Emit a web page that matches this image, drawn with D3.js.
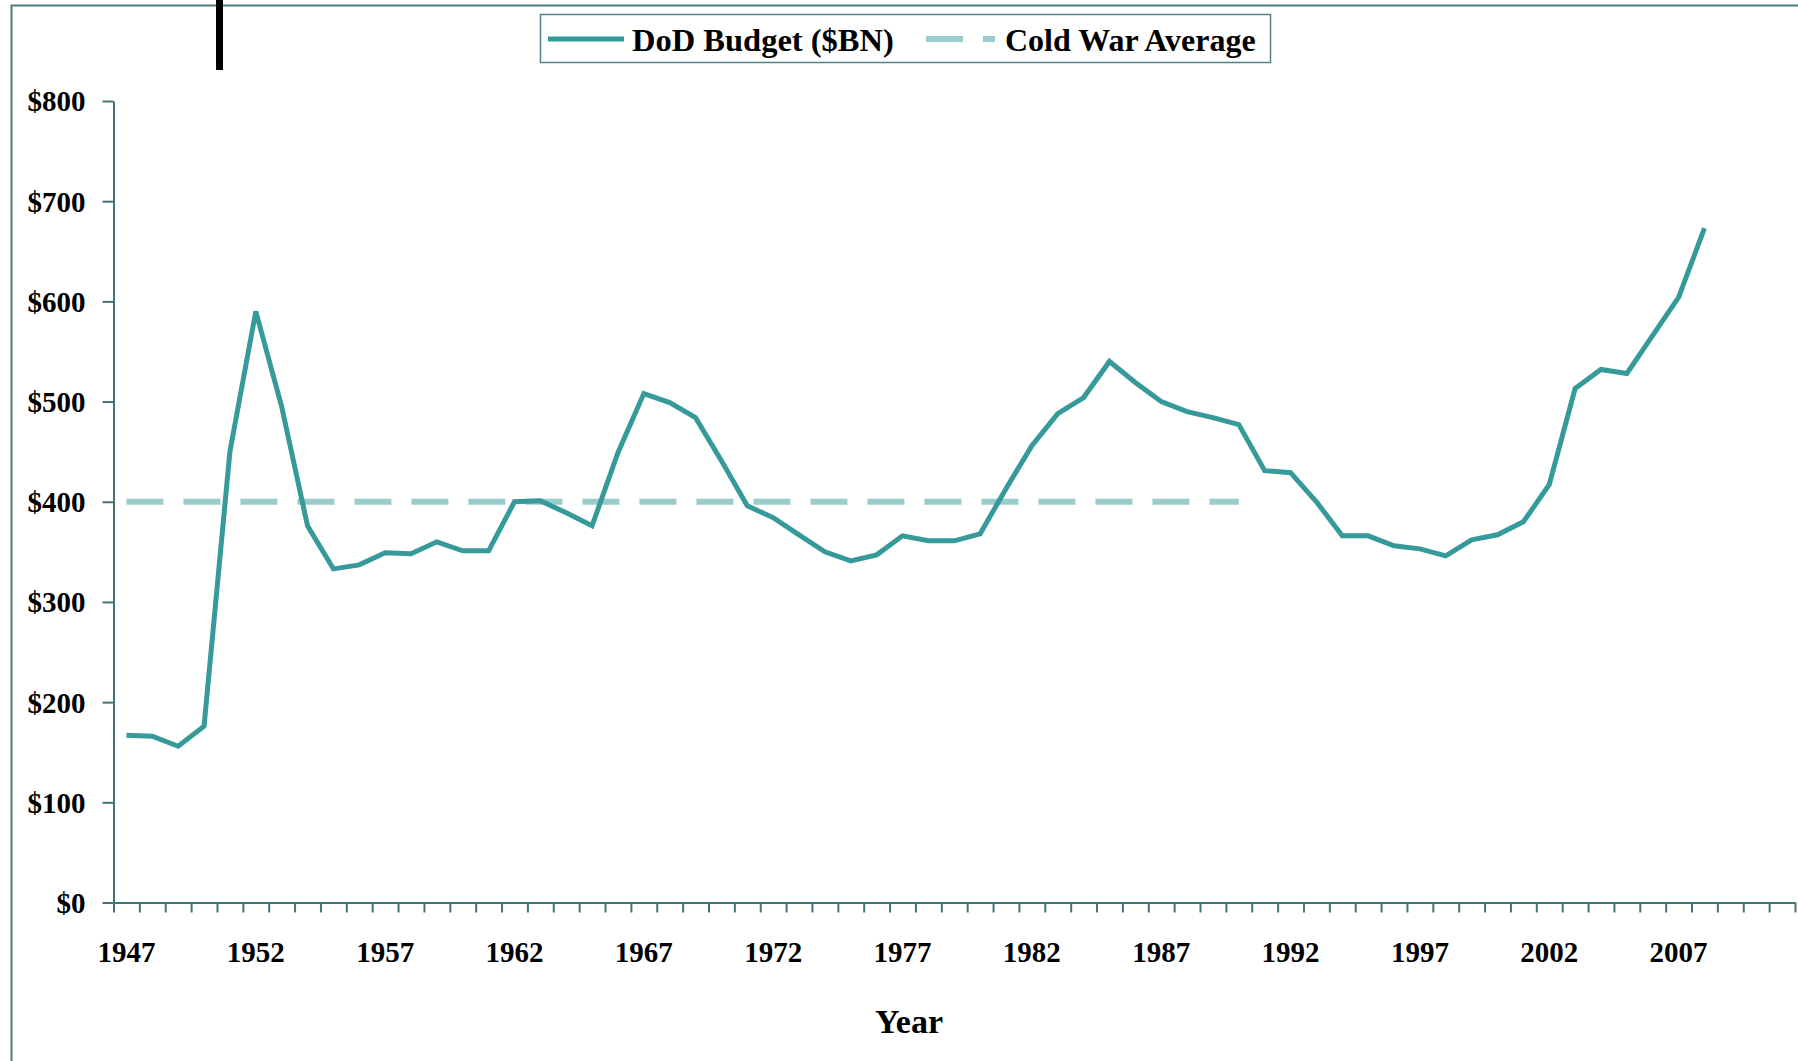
<!DOCTYPE html>
<html>
<head>
<meta charset="utf-8">
<script src="https://cdn.jsdelivr.net/npm/d3@7"></script>
<style>
  body { margin: 0; background: #fff; }
  text { font-family: "Liberation Serif", "Times New Roman", serif; font-weight: bold; fill: #000; }
</style>
</head>
<body>
<div id="chart"></div>
<script>
// data
var years = [1947, 1948, 1949, 1950, 1951, 1952, 1953, 1954, 1955, 1956,
             1957, 1958, 1959, 1960, 1961, 1962, 1963, 1964, 1965, 1966,
             1967, 1968, 1969, 1970, 1971, 1972, 1973, 1974, 1975, 1976,
             1977, 1978, 1979, 1980, 1981, 1982, 1983, 1984, 1985, 1986,
             1987, 1988, 1989, 1990, 1991, 1992, 1993, 1994, 1995, 1996,
             1997, 1998, 1999, 2000, 2001, 2002, 2003, 2004, 2005, 2006,
             2007, 2008];
var budget = [167, 166, 156, 176, 450, 590, 495, 376, 333, 337,
              349, 348, 360, 351, 351, 400, 401, 389, 376, 449,
              508, 499, 484, 441, 396, 384, 367, 350, 341, 347,
              366, 361, 361, 368, 413, 456, 488, 504, 540, 519,
              500, 490, 484, 477, 431, 429, 400, 366, 366, 356,
              353, 346, 362, 367, 380, 417, 513, 532, 528, 566,
              604, 673];
var coldWarYears = [1947, 1990];
var coldWarAvg = [400, 400];
var firstYear = 1947, lastYear = 2011;   // category range of the axis
var xLabels = ["1947", "1952", "1957", "1962", "1967", "1972", "1977", "1982", "1987", "1992", "1997", "2002", "2007"];
var yTicks = [0, 100, 200, 300, 400, 500, 600, 700, 800];
var seriesNames = ["DoD Budget ($BN)", "Cold War Average"];

function init(){
    var W = 1798, H = 1061;
    var left = 113.5, right = 1795, top = 101, bottom = 902.5;
    var lineColor = "#369a9a", avgColor = "#99cccc", axisColor = "#427676";

    var svg = d3.select("#chart").append("svg")
        .attr("width", W)
        .attr("height", H);

    // frame
    svg.append("path")
        .attr("d", "M11.5," + H + "V5.5H" + W)
        .attr("fill", "none")
        .attr("stroke", "#4e7c7c")
        .attr("stroke-width", 2);

    svg.append("rect")
        .attr("x", 216).attr("y", 0)
        .attr("width", 7).attr("height", 70)
        .attr("fill", "#000");

    var xScale = d3.scaleLinear()
        .domain([firstYear - 0.5, lastYear + 0.5])
        .range([left, right]);
    var yScale = d3.scaleLinear()
        .domain([0, 800])
        .range([bottom, top]);

    // y axis
    var yAxis = d3.axisLeft(yScale)
        .tickValues(yTicks)
        .tickSize(11)
        .tickSizeOuter(0)
        .tickPadding(17)
        .tickFormat(function(d){ return "$" + d; });
    var gy = svg.append("g")
        .attr("transform", "translate(" + left + ",0)")
        .call(yAxis);
    gy.selectAll("text").attr("font-size", 29).attr("dy", "0.34em");

    // x axis: tick marks between categories
    var bounds = [];
    for (var y = firstYear; y <= lastYear + 1; y++) bounds.push(y - 0.5);
    var xAxis = d3.axisBottom(xScale)
        .tickValues(bounds)
        .tickSize(10)
        .tickSizeOuter(0)
        .tickFormat("");
    var gx = svg.append("g")
        .attr("transform", "translate(0," + bottom + ")")
        .call(xAxis);

    [gx, gy].forEach(function(g){
        g.select(".domain").attr("stroke", axisColor).attr("stroke-width", 2);
        g.selectAll(".tick line").attr("stroke", axisColor).attr("stroke-width", 2);
        g.attr("font-family", null);
    });

    svg.append("g").selectAll("text")
        .data(xLabels)
        .enter().append("text")
        .attr("x", function(d){ return xScale(+d); })
        .attr("y", 962)
        .attr("text-anchor", "middle")
        .attr("font-size", 29)
        .text(function(d){ return d; });

    svg.append("text")
        .attr("x", 909).attr("y", 1033)
        .attr("text-anchor", "middle")
        .attr("font-size", 34)
        .text("Year");

    // cold war average
    var avgData = coldWarYears.map(function(d, i){ return {year: d, value: coldWarAvg[i]}; });
    var line = d3.line()
        .x(function(d){ return xScale(d.year); })
        .y(function(d){ return yScale(d.value); });

    svg.append("path")
        .datum(avgData)
        .attr("d", line)
        .attr("fill", "none")
        .attr("stroke", avgColor)
        .attr("stroke-width", 6)
        .attr("stroke-dasharray", "37,20");

    var budgetData = years.map(function(d, i){ return {year: d, value: budget[i]}; });
    svg.append("path")
        .datum(budgetData)
        .attr("d", line)
        .attr("fill", "none")
        .attr("stroke", lineColor)
        .attr("stroke-width", 5);

    // legend
    var lg = svg.append("g");
    lg.append("rect")
        .attr("x", 540.5).attr("y", 14.5)
        .attr("width", 730).attr("height", 48)
        .attr("fill", "#fff")
        .attr("stroke", "#4e8383")
        .attr("stroke-width", 1.5);
    lg.append("line")
        .attr("x1", 548).attr("x2", 624)
        .attr("y1", 39).attr("y2", 39)
        .attr("stroke", lineColor).attr("stroke-width", 5);
    lg.append("text")
        .attr("x", 632).attr("y", 51)
        .attr("font-size", 32.5)
        .text(seriesNames[0]);
    lg.append("line")
        .attr("x1", 926).attr("x2", 995)
        .attr("y1", 39).attr("y2", 39)
        .attr("stroke", avgColor).attr("stroke-width", 6)
        .attr("stroke-dasharray", "37,20");
    lg.append("text")
        .attr("x", 1005).attr("y", 51)
        .attr("font-size", 32)
        .text(seriesNames[1]);
}
window.onload = init;
</script>
</body>
</html>
